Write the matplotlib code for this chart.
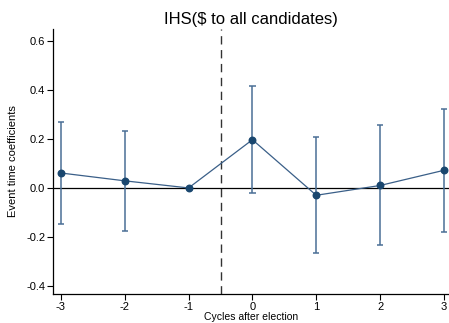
import matplotlib
matplotlib.use("Agg")
from matplotlib import pyplot as plt

# event time coefficients
cycles = [-3, -2, -1, 0, 1, 2, 3]
coef = [0.061, 0.029, 0.0, 0.197, -0.030, 0.010, 0.072]
ci_hi = [0.269, 0.233, 0.0, 0.416, 0.207, 0.256, 0.324]
ci_lo = [-0.147, -0.175, 0.0, -0.022, -0.264, -0.235, -0.180]
yticks = [-0.4, -0.2, 0.0, 0.2, 0.4, 0.6]

plt.rcParams['font.family'] = ['Liberation Sans', 'DejaVu Sans']

fig = plt.figure(figsize=(4.49, 3.23), dpi=100)
ax = fig.add_axes([0.118, 0.09, 0.882, 0.82])

navy = '#1a476f'
err_x = [c for c, h, l in zip(cycles, ci_hi, ci_lo) if h != l]
err_lo = [l for c, h, l in zip(cycles, ci_hi, ci_lo) if h != l]
err_hi = [h for c, h, l in zip(cycles, ci_hi, ci_lo) if h != l]
ax.vlines(err_x, err_lo, err_hi, color='#4a6f96', lw=1.1, zorder=2)
ax.hlines(err_lo, [x - 0.05 for x in err_x], [x + 0.05 for x in err_x], color='#4a6f96', lw=1.1, zorder=2)
ax.hlines(err_hi, [x - 0.05 for x in err_x], [x + 0.05 for x in err_x], color='#4a6f96', lw=1.1, zorder=2)

ax.plot(cycles, coef, color='#3a5f88', lw=0.9, zorder=3)
ax.scatter(cycles, coef, s=22, color=navy, zorder=4)

ax.axhline(0, color='black', lw=0.9, zorder=1)
ax.axvline(-0.5, color='#333333', lw=1.0, ls=(0, (6, 4)), zorder=1)

ax.set_xlim(-3.125, 3.08)
ax.set_ylim(-0.433, 0.649)
ax.set_xticks(cycles)
ax.set_xticklabels([str(c) for c in cycles])
ax.set_yticks(yticks)
ax.set_yticklabels(['%.1f' % t for t in yticks])
ax.tick_params(labelsize=8, length=4, width=0.8, pad=1.5)

for s in ['top', 'right']:
    ax.spines[s].set_visible(False)
for s in ['left', 'bottom']:
    ax.spines[s].set_linewidth(0.9)

ax.set_title('IHS($ to all candidates)', fontsize=12, pad=4)
ax.set_xlabel('Cycles after election', fontsize=7.5, labelpad=0.5)
ax.set_ylabel('Event time coefficients', fontsize=8, labelpad=6)

fig.savefig('out.png', dpi=100)
